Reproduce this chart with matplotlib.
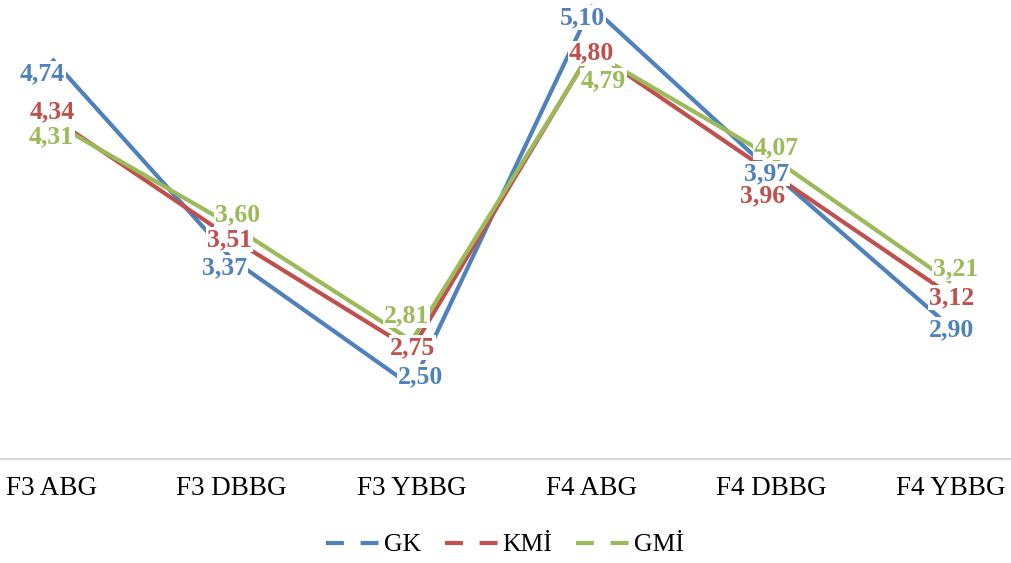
import matplotlib.pyplot as plt
from matplotlib.lines import Line2D

categories = ["F3 ABG", "F3 DBBG", "F3 YBBG", "F4 ABG", "F4 DBBG", "F4 YBBG"]
gk = [4.74, 3.37, 2.50, 5.10, 3.97, 2.90]
kmi = [4.34, 3.51, 2.75, 4.80, 3.96, 3.12]
gmi = [4.31, 3.60, 2.81, 4.79, 4.07, 3.21]

series = [
    ("GK", gk, "#4F81BD"),
    ("KMİ", kmi, "#C0504D"),
    ("GMİ", gmi, "#9BBB59"),
]

# label nudges in pixels (dx right, dy down), one per point
label_offsets = {
    "GK": [(-10, 15), (-7, 9), (9, -9), (-9, 11), (-5, 2), (1, 2)],
    "KMİ": [(0, -6), (-2, 1), (1, -2), (0, 3), (-9, 23), (1, 2)],
    "GMİ": [(-1, 15), (6, -11), (-5, -25), (12, 29), (5, -9), (5, -14)],
}

serif = "Liberation Serif"

fig = plt.figure(figsize=(10.11, 5.63), dpi=100)
ax = fig.add_axes([0, 1 - 459 / 563, 1, 459 / 563])

x = list(range(len(categories)))
for name, vals, color in series:
    ax.plot(x, vals, color=color, linewidth=3, solid_capstyle="butt", zorder=2)

# draw labels so that the blue ones sit on top where they crowd
for name, vals, color in [series[1], series[2], series[0]]:
    for xi, v, (dx, dy) in zip(x, vals, label_offsets[name]):
        ax.annotate(
            f"{v:.2f}".replace(".", ","),
            (xi, v),
            xytext=(dx, -dy),
            textcoords="offset pixels",
            ha="center",
            va="center",
            fontsize=18.5,
            fontweight="bold",
            family=serif,
            color=color,
            bbox=dict(boxstyle="square,pad=0.04", fc="white", ec="none"),
            zorder=5,
        )

ax.set_xlim(-52 / 179.8, (1011 - 52) / 179.8)
ax.set_ylim(2, 2 + 459 / 146)
ax.set_xticks(x)
ax.set_xticklabels(categories, fontsize=19.5, family=serif)
ax.tick_params(axis="x", length=0, pad=12)
ax.set_yticks([])
for side in ["top", "left", "right"]:
    ax.spines[side].set_visible(False)
ax.spines["bottom"].set_color("#d9d9d9")
ax.spines["bottom"].set_linewidth(1.5)
ax.patch.set_alpha(0)

handles = [
    Line2D([], [], color=color, linewidth=3, linestyle=(0, (4.3, 4)))
    for _, _, color in series
]
fig.legend(
    handles,
    [name for name, _, _ in series],
    loc="center",
    bbox_to_anchor=(505 / 1011, 1 - 545 / 563),
    ncol=3,
    frameon=False,
    prop={"family": serif, "size": 18.5},
    handlelength=2.06,
    handletextpad=0.2,
    columnspacing=0.9,
)

fig.savefig("out.png", dpi=100)
